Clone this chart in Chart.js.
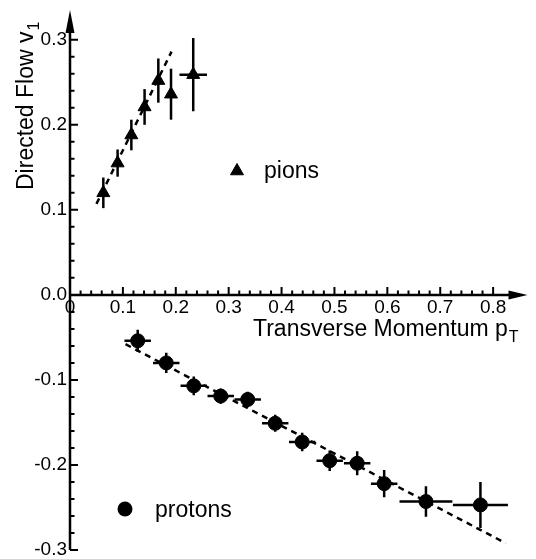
<!DOCTYPE html>
<html>
<head>
<meta charset="utf-8">
<script src="https://cdn.jsdelivr.net/npm/chart.js@4.4.0/dist/chart.umd.min.js"></script>
<style>
html,body{margin:0;padding:0;background:#ffffff;}
#wrap{width:536px;height:559px;position:relative;}
</style>
</head>
<body>
<div id="wrap"><canvas id="c" width="536" height="559"></canvas></div>
<script>
// ---- data ----
const pionPt   = [0.063, 0.090, 0.116, 0.141, 0.167, 0.191, 0.233];
const pionV1   = [0.120, 0.155, 0.188, 0.221, 0.252, 0.236, 0.259];
const pionErrY = [0.018, 0.016, 0.018, 0.021, 0.026, 0.030, 0.043];
const pionErrX = [0, 0, 0, 0, 0, 0, 0.026];

const protonPt   = [0.128, 0.182, 0.234, 0.285, 0.336, 0.388, 0.439, 0.491, 0.543, 0.594, 0.673, 0.776];
const protonV1   = [-0.054, -0.080, -0.107, -0.119, -0.123, -0.151, -0.173, -0.195, -0.198, -0.222, -0.243, -0.247];
const protonErrX = [0.025, 0.025, 0.025, 0.025, 0.025, 0.025, 0.025, 0.025, 0.025, 0.025, 0.050, 0.052];
const protonErrY = [0.013, 0.012, 0.011, 0.009, 0.009, 0.010, 0.011, 0.012, 0.014, 0.016, 0.018, 0.027];

const pionFitPt   = [0.050, 0.192];
const pionFitV1   = [0.107, 0.286];
const protonFitPt = [0.105, 0.824];
const protonFitV1 = [-0.058, -0.292];

const xTickValues = [0, 0.1, 0.2, 0.3, 0.4, 0.5, 0.6, 0.7, 0.8];
const xTickLabels = ['0', '0.1', '0.2', '0.3', '0.4', '0.5', '0.6', '0.7', '0.8'];
const yTickValues = [-0.3, -0.2, -0.1, 0.0, 0.1, 0.2, 0.3];
const yTickLabels = ['-0.3', '-0.2', '-0.1', '0.0', '0.1', '0.2', '0.3'];
const xMinorTicks = [0.02,0.04,0.06,0.08,0.12,0.14,0.16,0.18,0.22,0.24,0.26,0.28,0.32,0.34,0.36,0.38,0.42,0.44,0.46,0.48,0.52,0.54,0.56,0.58,0.62,0.64,0.66,0.68,0.72,0.74,0.76,0.78];
const yMinorTicks = [-0.28,-0.26,-0.24,-0.22,-0.18,-0.16,-0.14,-0.12,-0.08,-0.06,-0.04,-0.02,0.02,0.04,0.06,0.08,0.12,0.14,0.16,0.18,0.22,0.24,0.26,0.28];

const xTitle = 'Transverse Momentum p';
const xTitleSub = 'T';
const yTitle = 'Directed Flow v';
const yTitleSub = '1';
const pionLabel = 'pions';
const protonLabel = 'protons';

const FONT = '"Liberation Sans", Arial, Helvetica, sans-serif';

const toPts = (xs, ys) => xs.map((x, i) => ({x: x, y: ys[i]}));

const axesPlugin = {
  id: 'physAxes',
  beforeDatasetsDraw(chart) {
    const ctx = chart.ctx;
    const xs = chart.scales.x, ys = chart.scales.y;
    const x0 = xs.getPixelForValue(0), y0 = ys.getPixelForValue(0);
    ctx.save();
    ctx.strokeStyle = '#000'; ctx.fillStyle = '#000';
    // error bars
    ctx.lineWidth = 2.5;
    const bars = (px, py, ex, ey) => {
      for (let i = 0; i < px.length; i++) {
        const cx = xs.getPixelForValue(px[i]), cy = ys.getPixelForValue(py[i]);
        ctx.beginPath();
        ctx.moveTo(cx, ys.getPixelForValue(py[i] - ey[i]));
        ctx.lineTo(cx, ys.getPixelForValue(py[i] + ey[i]));
        if (ex[i] > 0) {
          ctx.moveTo(xs.getPixelForValue(px[i] - ex[i]), cy);
          ctx.lineTo(xs.getPixelForValue(px[i] + ex[i]), cy);
        }
        ctx.stroke();
      }
    };
    bars(pionPt, pionV1, pionErrX, pionErrY);
    bars(protonPt, protonV1, protonErrX, protonErrY);

    // axes lines
    ctx.lineWidth = 2.5;
    const yTop = chart.chartArea.top, xRight = chart.chartArea.right;
    const yBottom = ys.getPixelForValue(-0.3);
    ctx.beginPath();
    ctx.moveTo(x0, yBottom); ctx.lineTo(x0, yTop + 14);
    ctx.moveTo(x0, y0); ctx.lineTo(xRight - 14, y0);
    ctx.stroke();
    // arrows
    ctx.beginPath();
    ctx.moveTo(x0, yTop); ctx.lineTo(x0 - 4.5, yTop + 23); ctx.lineTo(x0 + 4.5, yTop + 23); ctx.closePath();
    ctx.fill();
    ctx.beginPath();
    ctx.moveTo(xRight, y0); ctx.lineTo(xRight - 19, y0 - 4.5); ctx.lineTo(xRight - 19, y0 + 4.5); ctx.closePath();
    ctx.fill();

    // ticks
    ctx.lineWidth = 2;
    ctx.beginPath();
    xTickValues.forEach(v => { if (v === 0) return; const p = xs.getPixelForValue(v); ctx.moveTo(p, y0); ctx.lineTo(p, y0 - 8); });
    xMinorTicks.forEach(v => { const p = xs.getPixelForValue(v); ctx.moveTo(p, y0); ctx.lineTo(p, y0 - 4.5); });
    yTickValues.forEach(v => { if (v === 0) return; const p = ys.getPixelForValue(v); ctx.moveTo(x0, p); ctx.lineTo(x0 + 8, p); });
    yMinorTicks.forEach(v => { const p = ys.getPixelForValue(v); ctx.moveTo(x0, p); ctx.lineTo(x0 + 4.5, p); });
    ctx.stroke();

    // tick labels
    ctx.font = '19px ' + FONT;
    ctx.textAlign = 'center'; ctx.textBaseline = 'middle';
    xTickValues.forEach((v, i) => ctx.fillText(xTickLabels[i], xs.getPixelForValue(v), y0 + 13));
    ctx.textAlign = 'right';
    yTickValues.forEach((v, i) => ctx.fillText(yTickLabels[i], x0 - 3, ys.getPixelForValue(v)));
    ctx.restore();
  },
  afterDraw(chart) {
    const ctx = chart.ctx;
    ctx.save();
    ctx.fillStyle = '#000';
    ctx.textBaseline = 'alphabetic';
    ctx.textAlign = 'left';
    // x title
    ctx.font = '23px ' + FONT;
    ctx.fillText(xTitle, 253, 336);
    const w = ctx.measureText(xTitle).width;
    ctx.font = '16px ' + FONT;
    ctx.fillText(xTitleSub, 253 + w + 1, 342);
    // y title
    ctx.save();
    ctx.translate(33, 190);
    ctx.rotate(-Math.PI / 2);
    ctx.font = '23px ' + FONT;
    ctx.fillText(yTitle, 0, 0);
    const wy = ctx.measureText(yTitle).width;
    ctx.font = '16px ' + FONT;
    ctx.fillText(yTitleSub, wy + 1, 6);
    ctx.restore();
    // legend
    Chart.helpers.drawPoint(ctx, {pointStyle: 'triangle', radius: 7.5, rotation: 0, borderWidth: 1}, 237, 171);
    ctx.fillStyle = '#000'; ctx.strokeStyle = '#000';
    ctx.font = '23px ' + FONT;
    ctx.textBaseline = 'middle';
    ctx.fillText(pionLabel, 264, 172);
    ctx.beginPath(); ctx.arc(125, 509, 7.5, 0, Math.PI * 2); ctx.fill();
    ctx.fillText(protonLabel, 155, 511);
    ctx.restore();
  }
};

new Chart(document.getElementById('c'), {
  type: 'scatter',
  data: {
    datasets: [
      { label: 'pions', data: toPts(pionPt, pionV1), pointStyle: 'triangle', pointRadius: 7.5,
        backgroundColor: '#000', borderColor: '#000', borderWidth: 1, order: 1 },
      { label: 'protons', data: toPts(protonPt, protonV1), pointStyle: 'circle', pointRadius: 7,
        backgroundColor: '#000', borderColor: '#000', borderWidth: 1, order: 1 },
      { type: 'line', label: 'pion fit', data: toPts(pionFitPt, pionFitV1), borderColor: '#000',
        borderWidth: 2.5, borderDash: [6, 5], pointRadius: 0, fill: false, order: 2 },
      { type: 'line', label: 'proton fit', data: toPts(protonFitPt, protonFitV1), borderColor: '#000',
        borderWidth: 2.5, borderDash: [6, 5], pointRadius: 0, fill: false, order: 2 }
    ]
  },
  options: {
    responsive: false,
    animation: false,
    devicePixelRatio: 1,
    layout: { padding: { left: 70, right: 1, top: 10, bottom: 9 } },
    plugins: { legend: { display: false }, tooltip: { enabled: false } },
    scales: {
      x: { type: 'linear', min: 0, max: 0.865, display: false },
      y: { type: 'linear', min: -0.3, max: 0.335, display: false }
    }
  },
  plugins: [axesPlugin]
});
</script>
</body>
</html>
